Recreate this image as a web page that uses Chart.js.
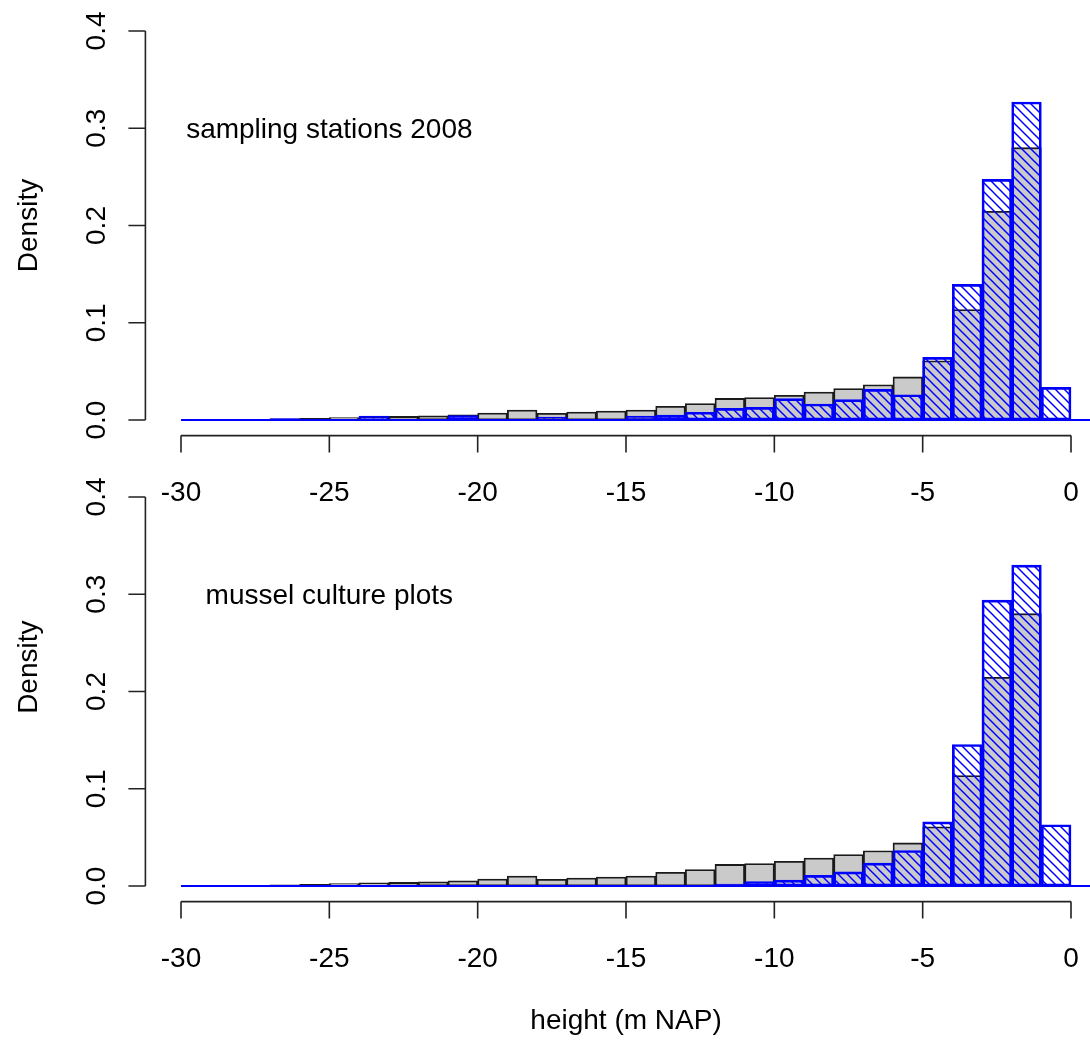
<!DOCTYPE html>
<html>
<head>
<meta charset="utf-8">
<script src="https://cdn.jsdelivr.net/npm/chart.js@4.4.1/dist/chart.umd.min.js"></script>
<style>
  html, body { margin: 0; padding: 0; background: #fff; }
  #wrap { position: relative; width: 1090px; height: 1041px; }
  #wrap canvas { position: absolute; left: 0; top: 0; }
</style>
</head>
<body>
<div id="wrap">
  <canvas id="topChart" width="1090" height="1041"></canvas>
  <canvas id="bottomChart" width="1090" height="1041"></canvas>
</div>
<script>
// 1 m bins from -30 to 0, given by their centre
var binCentres = [-29.5, -28.5, -27.5, -26.5, -25.5, -24.5, -23.5, -22.5, -21.5, -20.5,
                  -19.5, -18.5, -17.5, -16.5, -15.5, -14.5, -13.5, -12.5, -11.5, -10.5,
                  -9.5, -8.5, -7.5, -6.5, -5.5, -4.5, -3.5, -2.5, -1.5, -0.5];

// whole area (grey bars), same in both panels
var allDensity = [0.0002, 0.0006, 0.0008, 0.0013, 0.0017, 0.0024, 0.0033, 0.0037, 0.0044, 0.0054,
                  0.0071, 0.0103, 0.0070, 0.0083, 0.0092, 0.0103, 0.0142, 0.0170, 0.0222, 0.0232,
                  0.0255, 0.0288, 0.0323, 0.0363, 0.0443, 0.0608, 0.1135, 0.2145, 0.2800, 0];

// sampling stations 2008 (hatched, top)
var stationsDensity = [0, 0, 0.0005, 0.0015, 0.001, 0, 0.004, 0, 0, 0.0045,
                       0, 0, 0.003, 0, 0, 0.004, 0.005, 0.008, 0.012, 0.013,
                       0.022, 0.0165, 0.021, 0.0315, 0.026, 0.0645, 0.1395, 0.2475, 0.327, 0.0336];

// mussel culture plots (hatched, bottom)
var musselDensity = [0, 0, 0, 0, 0, 0, 0, 0, 0, 0,
                     0, 0, 0, 0, 0, 0, 0, 0, 0.002, 0.0045,
                     0.006, 0.011, 0.0145, 0.0235, 0.0365, 0.066, 0.1455, 0.294, 0.330, 0.063];

var xTicks = [-30, -25, -20, -15, -10, -5, 0];
var xTickLabels = ['-30', '-25', '-20', '-15', '-10', '-5', '0'];
var yTicks = [0, 0.1, 0.2, 0.3, 0.4];
var yTickLabels = ['0.0', '0.1', '0.2', '0.3', '0.4'];

var FONT = '28px "Liberation Sans", Arial, sans-serif';

function makeHatch() {
    var p = 9;
    var c = document.createElement('canvas');
    c.width = p; c.height = p;
    var g = c.getContext('2d');
    g.strokeStyle = '#0000ff';
    g.lineWidth = 1.5;
    [-p, 0, p].forEach(function (k) {
        g.beginPath();
        g.moveTo(-1, -1 + k);
        g.lineTo(p + 1, p + 1 + k);
        g.stroke();
    });
    return g.createPattern(c, 'repeat');
}

function vLabel(ctx, text, x, y) {
    ctx.save();
    ctx.translate(x, y);
    ctx.rotate(-Math.PI / 2);
    ctx.fillText(text, 0, 0);
    ctx.restore();
}

// base R style axes and texts
var rStyle = {
    id: 'rStyle',
    afterDatasetsDraw: function (chart, args, opts) {
        var ctx = chart.ctx;
        var xs = chart.scales.x, ys = chart.scales.y;
        var area = chart.chartArea;
        var y0 = ys.getPixelForValue(0);
        ctx.save();

        ctx.strokeStyle = '#0000ff';
        ctx.lineWidth = 2;
        ctx.beginPath();
        ctx.moveTo(xs.getPixelForValue(xTicks[0]), y0);
        ctx.lineTo(area.right, y0);
        ctx.stroke();

        ctx.strokeStyle = '#222';
        ctx.lineWidth = 1.6;
        ctx.beginPath();
        var axisY = area.bottom;
        ctx.moveTo(xs.getPixelForValue(xTicks[0]), axisY);
        ctx.lineTo(xs.getPixelForValue(xTicks[xTicks.length - 1]), axisY);
        xTicks.forEach(function (v) {
            var px = xs.getPixelForValue(v);
            ctx.moveTo(px, axisY);
            ctx.lineTo(px, axisY + 17);
        });
        var axisX = area.left;
        ctx.moveTo(axisX, ys.getPixelForValue(yTicks[0]));
        ctx.lineTo(axisX, ys.getPixelForValue(yTicks[yTicks.length - 1]));
        yTicks.forEach(function (v) {
            var py = ys.getPixelForValue(v);
            ctx.moveTo(axisX, py);
            ctx.lineTo(axisX - 17, py);
        });
        ctx.stroke();

        ctx.fillStyle = '#000';
        ctx.font = FONT;
        ctx.textAlign = 'center';
        ctx.textBaseline = 'alphabetic';
        xTicks.forEach(function (v, i) {
            ctx.fillText(xTickLabels[i], xs.getPixelForValue(v), axisY + 65);
        });
        yTicks.forEach(function (v, i) {
            vLabel(ctx, yTickLabels[i], axisX - 40, ys.getPixelForValue(v));
        });
        vLabel(ctx, 'Density', axisX - 108, ys.getPixelForValue(opts.yTitleAt));

        ctx.fillText(opts.note, xs.getPixelForValue(-25), ys.getPixelForValue(0.3) + 10);
        if (opts.xTitle) {
            ctx.fillText(opts.xTitle, xs.getPixelForValue(-15), axisY + 127);
        }
        ctx.restore();
    }
};

function makePanel(id, subset, note, padTop, padBottom, xTitle, yTitleAt) {
    var grey = [], hatched = [];
    for (var i = 0; i < binCentres.length; i++) {
        grey.push({ x: binCentres[i], y: allDensity[i] });
        hatched.push({ x: binCentres[i], y: subset[i] });
    }
    return new Chart(document.getElementById(id), {
        type: 'bar',
        data: {
            datasets: [{
                label: 'all',
                data: grey,
                backgroundColor: '#cacaca',
                borderColor: '#1a1a1a',
                borderWidth: 1.8,
                borderSkipped: false,
                order: 2
            }, {
                label: note,
                data: hatched,
                backgroundColor: makeHatch(),
                borderColor: '#0000ff',
                borderWidth: 2,
                borderSkipped: false,
                order: 1
            }]
        },
        options: {
            responsive: false,
            animation: false,
            devicePixelRatio: 1,
            datasets: { bar: { grouped: false, barPercentage: 1, categoryPercentage: 1 } },
            layout: { padding: { left: 145.4, right: 0, top: padTop, bottom: padBottom } },
            scales: {
                x: {
                    type: 'linear', min: -31.2, max: 0.64, offset: false, display: false,
                    afterBuildTicks: function (s) { s.ticks = xTicks.map(function (v) { return { value: v }; }); }
                },
                y: { min: -0.016, max: 0.416, display: false }
            },
            plugins: {
                legend: { display: false },
                tooltip: { enabled: false },
                rStyle: { note: note, xTitle: xTitle, yTitleAt: yTitleAt }
            }
        },
        plugins: [rStyle]
    });
}

makePanel('topChart', stationsDensity, 'sampling stations 2008', 15.4, 605.4, null, 0.2);
makePanel('bottomChart', musselDensity, 'mussel culture plots', 481.4, 139.4, 'height (m NAP)', 0.225);
</script>
</body>
</html>
